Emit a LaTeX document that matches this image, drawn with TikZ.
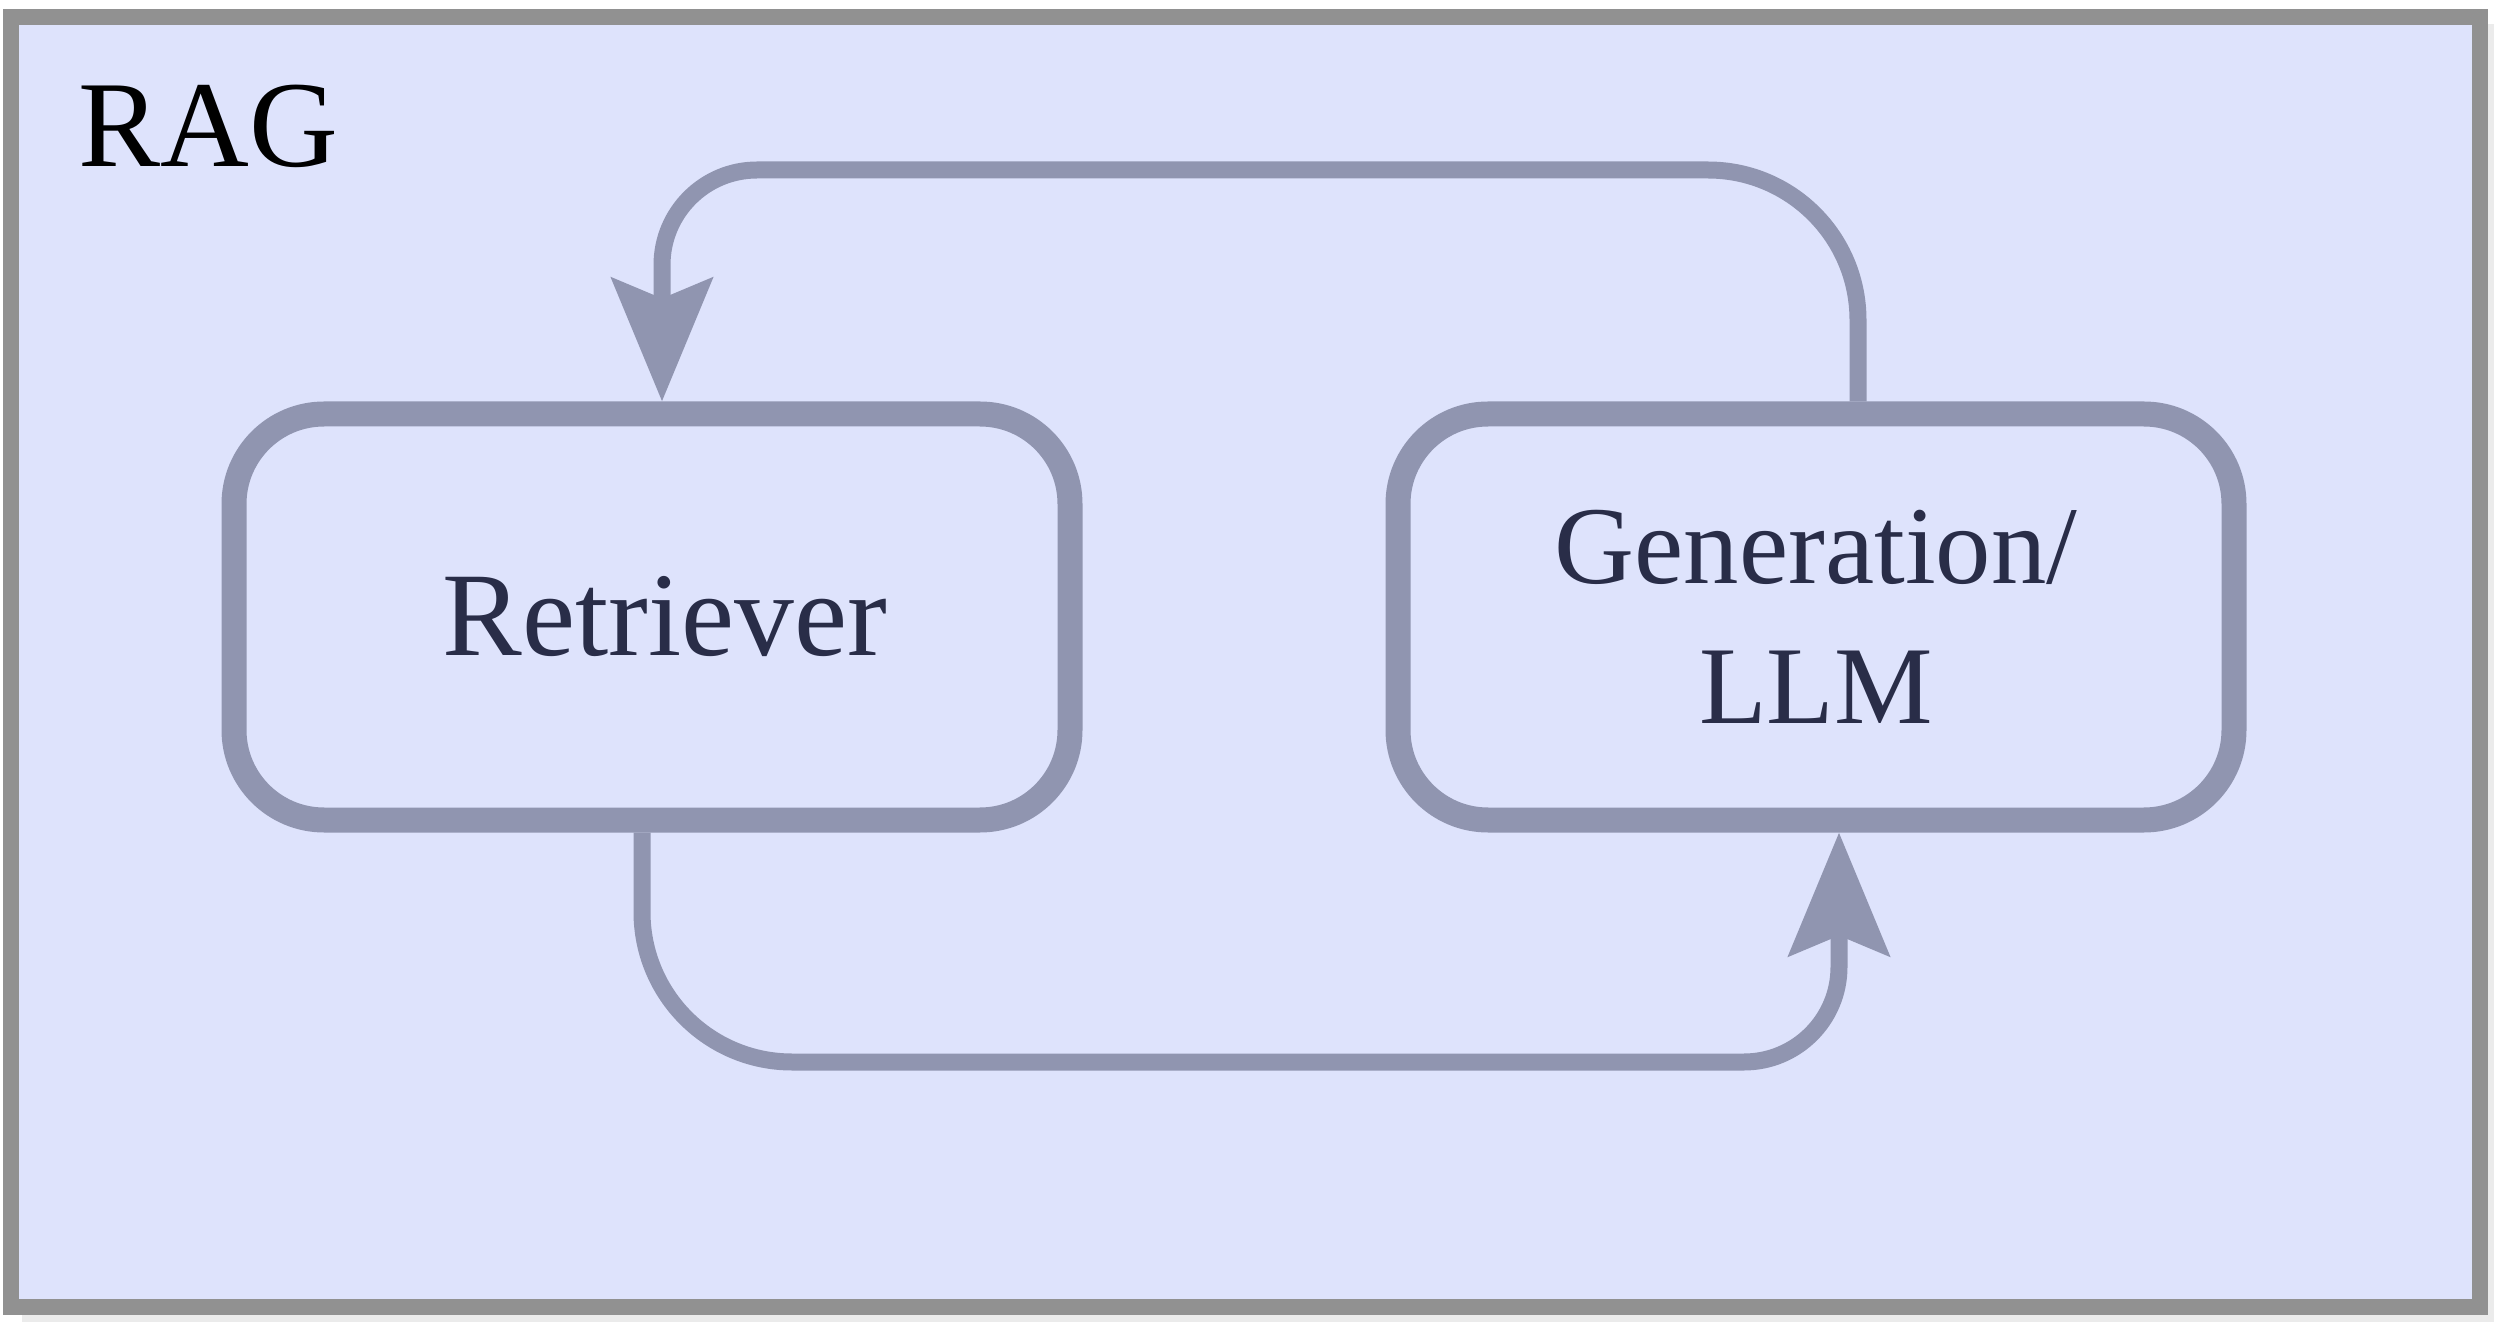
\documentclass[tikz,border=0pt]{standalone}
\usepackage{fontspec}
\setmainfont{Liberation Serif}
\usetikzlibrary{positioning,calc,arrows.meta}
\definecolor{panelfill}{RGB}{222,227,252}
\definecolor{framegray}{RGB}{145,145,145}
\definecolor{boxring}{RGB}{144,149,176}
\definecolor{labeldark}{RGB}{41,45,72}

\begin{document}
\begin{tikzpicture}[
  x=1cm, y=1cm,
  blk/.style={draw=boxring, line width=0.25cm, rounded corners=0.9cm,
              minimum width=8.36cm, minimum height=4.06cm,
              font=\fontsize{34}{40}\selectfont, align=center, text=labeldark},
  flowarr/.style={-{Stealth[length=1.23cm, width=1.0cm, inset=0.2cm]},
                  line width=0.17cm, boxring},
]

% canvas
\useasboundingbox (0,0) rectangle (24.96,13.24);
\fill[black!8] (0.22,0.02) rectangle (24.94,13.0);
\draw[framegray, fill=panelfill, line width=0.16cm] (0.11,0.17) rectangle (24.80,13.07);

% title
\node[anchor=base west, font=\fontsize{35}{40}\selectfont] (rag) at (0.66,11.57) {RAG};

% blocks
\node[blk] (retriever) at (6.52,7.07) {\hspace*{0.26cm}Retriever};
\node[blk, right=3.03cm of retriever, font=\fontsize{31.5}{40}\selectfont]
  (generation) {Generation/\\LLM};

% runs of the two loops
\coordinate (toprun) at (12.0,11.54);
\coordinate (lowrun) at (12.0,2.62);

% flows
\draw[flowarr] ([xshift=0.42cm]generation.north) [rounded corners=1.5cm] |- (toprun)
  [rounded corners=0.95cm] -| ([xshift=0.10cm]retriever.north);
\draw[flowarr] ([xshift=-0.10cm]retriever.south) [rounded corners=1.5cm] |- (lowrun)
  [rounded corners=0.95cm] -| ([xshift=0.23cm]generation.south);

\end{tikzpicture}
\end{document}
